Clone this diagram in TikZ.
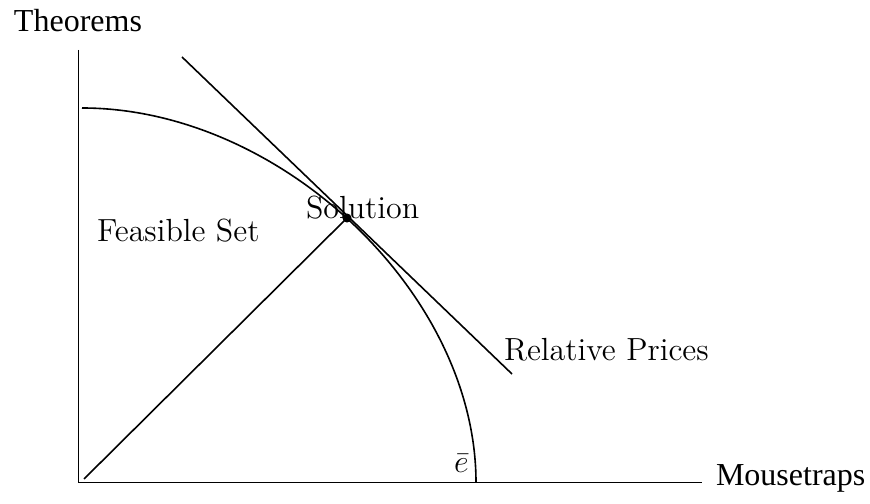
\documentclass[tikz,border=0pt]{standalone}
\usepackage{fontspec}
\setmainfont{Latin Modern Roman}
\newfontfamily\timesfont{LiberationSerif}[Extension=.ttf,UprightFont=*-Regular]
\begin{document}
\begin{tikzpicture}[x=0.375pt,y=-0.375pt,
  lbl/.style={inner sep=0pt,outer sep=0pt,font=\fontsize{12}{14}\selectfont},
  tlbl/.style={inner sep=0pt,outer sep=0pt,font=\timesfont\fontsize{12}{14}\selectfont},
  ln/.style={line width=0.6pt}]
\useasboundingbox (0,0) rectangle (870,504);
\coordinate (o) at (78.5,482.5);
\coordinate (ytop) at (78.5,50);
\coordinate (xend) at (702,482.5);
\coordinate (dstart) at (84,479);
\coordinate (tA) at (182,57);
\coordinate (tB) at (512,374);
\coordinate (cA) at (82,108);
\coordinate (cB) at (476,482.5);
\draw[ln] (ytop) -- (o) -- (xend);
\draw[ln] (cA) .. controls (280,108) and (476,293) .. (cB);
\draw[ln] (tA) -- (tB);
\node[circle,fill=black,inner sep=0pt,minimum size=3.4pt] (sol) at (347,218) {};
\draw[ln] (dstart) -- (sol.center);
\node[tlbl,anchor=base west] (th) at (14,32) {Theorems};
\node[tlbl,anchor=base west] (mt) at (716,486) {Mousetraps};
\node[lbl,anchor=base west] (fs) at (97,242) {Feasible Set};
\node[lbl,anchor=base west] (sl) at (306,219) {Solution};
\node[lbl,anchor=base west] (rp) at (504,361) {Relative Prices};
\node[lbl,anchor=base west] (eb) at (454,473) {$\bar{e}$};
\end{tikzpicture}
\end{document}
